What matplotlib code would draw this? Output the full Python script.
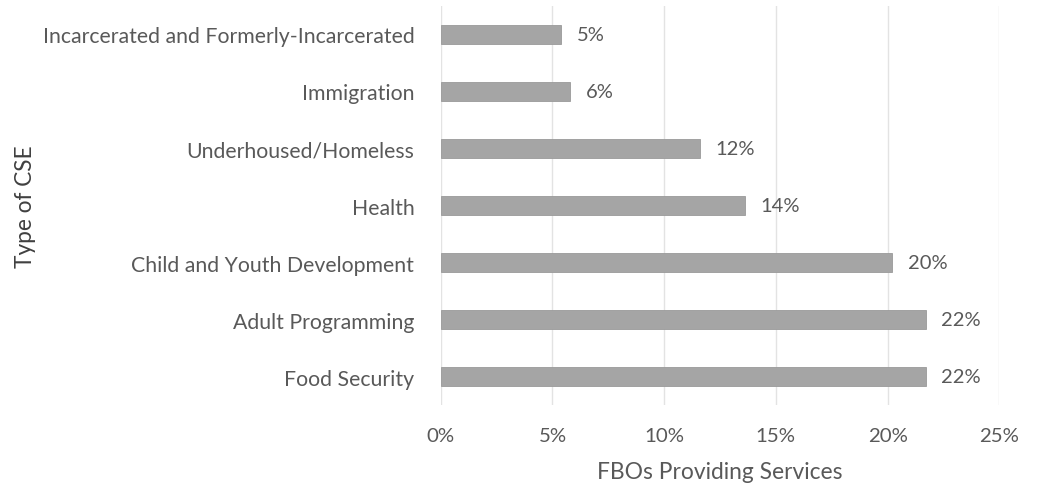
import numpy as np
import matplotlib.pyplot as plt
from matplotlib.ticker import PercentFormatter

# share of FBOs providing each type of CSE (percent)
categories = ["Food Security", "Adult Programming", "Child and Youth Development",
              "Health", "Underhoused/Homeless", "Immigration",
              "Incarcerated and Formerly-Incarcerated"]
shares = [21.7, 21.7, 20.2, 13.6, 11.6, 5.8, 5.4]
xticks = [0, 5, 10, 15, 20, 25]

text_col = "#595959"
plt.rcParams["font.family"] = ["Lato", "DejaVu Sans"]

fig = plt.figure(figsize=(10.38, 4.89), dpi=100)
ax = fig.add_axes([0.4246, 0.1697, 0.5381, 0.8160])

y = np.arange(len(categories))
ax.barh(y, shares, height=0.35, color="#a5a5a5", edgecolor="#9a9a9a", linewidth=0.6, zorder=2)

for yi, v in zip(y, shares):
    ax.text(v + 0.7, yi, f"{v:.0f}%", va="center", ha="left", fontsize=14.5, color=text_col)

ax.set_xlim(0, 25)
ax.set_ylim(-0.5, len(categories) - 0.5)
ax.set_xticks(xticks)
ax.xaxis.set_major_formatter(PercentFormatter(decimals=0))
ax.set_yticks(y)
ax.set_yticklabels(categories, fontsize=15.3)
ax.tick_params(axis="both", length=0, colors=text_col)
ax.tick_params(axis="x", labelsize=14.7, pad=16)
ax.tick_params(axis="y", pad=19)
ax.grid(axis="x", color="#e3e3e3", linewidth=1, zorder=0)
for s in ax.spines.values():
    s.set_visible(False)

ax.set_xlabel("FBOs Providing Services", fontsize=16.4, color=text_col, labelpad=12)
fig.text(0.025, 0.5773, "Type of CSE", rotation=90, va="center", ha="center",
         fontsize=16.3, color="#404040")

fig.savefig("out.png", dpi=100)
